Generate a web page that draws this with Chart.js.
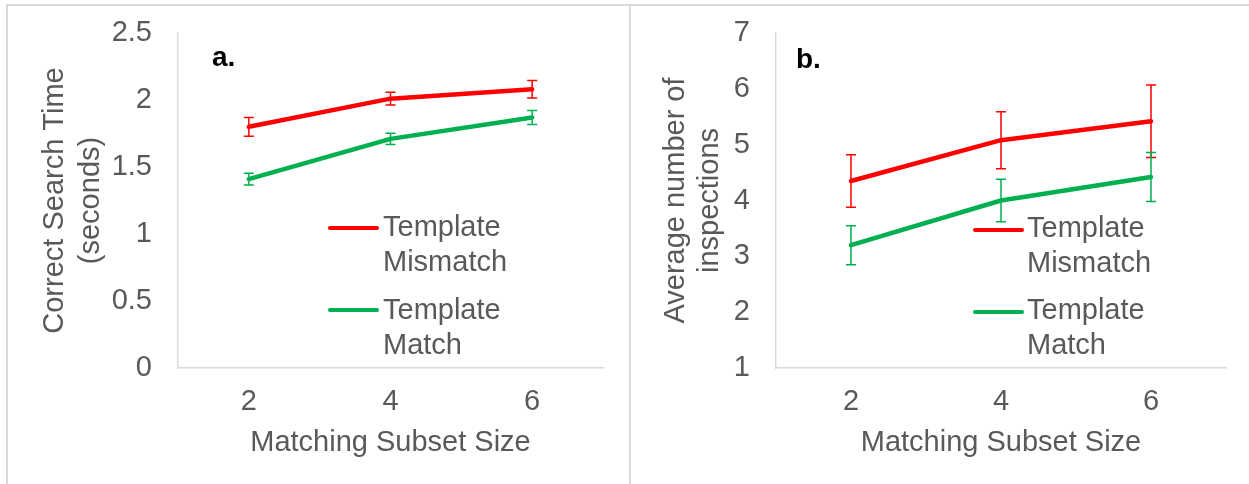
<!DOCTYPE html>
<html>
<head>
<meta charset="utf-8">
<script src="https://cdn.jsdelivr.net/npm/chart.js@4.4.1/dist/chart.umd.min.js"></script>
<style>
  html, body { margin:0; padding:0; background:#ffffff; }
  #wrap { position:relative; width:1249px; height:484px; overflow:hidden; font-family:"Liberation Sans", Arial, sans-serif; }
  canvas { position:absolute; display:block; }
  .rule { position:absolute; background:#d9d9d9; z-index:5; }
  .lbl { position:absolute; font-weight:bold; font-size:28px; line-height:35px; color:#000; white-space:nowrap; }
  .legtxt { position:absolute; font-size:29px; line-height:35px; color:#595959; white-space:nowrap; }
  .legline { position:absolute; height:4px; border-radius:2px; }
</style>
</head>
<body>
<div id="wrap">
  <canvas id="chartA" width="629" height="484" style="left:0px;top:0px;"></canvas>
  <canvas id="chartB" width="620" height="484" style="left:629px;top:0px;"></canvas>

  <div class="rule" style="left:6px;top:4px;width:1243px;height:2px;"></div>
  <div class="rule" style="left:6px;top:4px;width:2px;height:480px;"></div>
  <div class="rule" style="left:629px;top:4px;width:2px;height:480px;"></div>

  <div class="lbl" style="left:212px;top:39px;">a.</div>
  <div class="lbl" style="left:796px;top:41px;">b.</div>

  <div class="legline" style="left:328px;top:226px;width:51px;background:#ff0000;"></div>
  <div class="legtxt" style="left:383px;top:209px;">Template<br>Mismatch</div>
  <div class="legline" style="left:328px;top:308px;width:51px;background:#00b050;"></div>
  <div class="legtxt" style="left:383px;top:292px;">Template<br>Match</div>

  <div class="legline" style="left:973px;top:228px;width:51px;background:#ff0000;"></div>
  <div class="legtxt" style="left:1027px;top:210px;">Template<br>Mismatch</div>
  <div class="legline" style="left:973px;top:310px;width:51px;background:#00b050;"></div>
  <div class="legtxt" style="left:1027px;top:292px;">Template<br>Match</div>
</div>
<script>
// ---- data ----
const categories = ['2', '4', '6'];

const aMismatch    = [1.80, 2.01, 2.08];
const aMismatchErr = [0.07, 0.047, 0.065];
const aMatch       = [1.41, 1.71, 1.87];
const aMatchErr    = [0.044, 0.042, 0.052];

const bMismatch    = [4.35, 5.08, 5.42];
const bMismatchErr = [0.47, 0.51, 0.65];
const bMatch       = [3.20, 4.00, 4.42];
const bMatchErr    = [0.35, 0.38, 0.44];

const seriesNames = ['Template Mismatch', 'Template Match'];
const xTitle = 'Matching Subset Size';
const aYTitle = ['Correct Search Time', '(seconds)'];
const bYTitle = ['Average number of', 'inspections'];
// -------------

const RED = '#ff0000', GREEN = '#00b050', TXT = '#595959', AXIS = '#d9d9d9';
const FONT = '"Liberation Sans", Arial, sans-serif';
const FS = 29;

const errorBarPlugin = {
  id: 'errorBars',
  afterDatasetsDraw(chart) {
    const ctx = chart.ctx;
    const x = chart.scales.x, y = chart.scales.y;
    chart.data.datasets.forEach((ds) => {
      const errs = ds.errors || [];
      ctx.save();
      ctx.strokeStyle = ds.borderColor;
      ctx.lineWidth = 1.5;
      ds.data.forEach((v, i) => {
        const e = errs[i];
        if (e == null) return;
        const px = x.getPixelForValue(i);
        const top = y.getPixelForValue(v + e);
        const bot = y.getPixelForValue(v - e);
        ctx.beginPath();
        ctx.moveTo(px, top); ctx.lineTo(px, bot);
        ctx.moveTo(px - 5, top); ctx.lineTo(px + 5, top);
        ctx.moveTo(px - 5, bot); ctx.lineTo(px + 5, bot);
        ctx.stroke();
      });
      ctx.restore();
    });
  }
};

function makeChart(id, mism, mismErr, match, matchErr, yMin, yMax, yStep, yTitle, yWidth, padRight, yTitlePad, yTitleLH) {
  return new Chart(document.getElementById(id), {
    type: 'line',
    data: {
      labels: categories,
      datasets: [
        { label: seriesNames[0], data: mism, errors: mismErr, borderColor: RED, backgroundColor: RED,
          borderWidth: 4.5, pointRadius: 0, borderCapStyle: 'round', borderJoinStyle: 'round', tension: 0 },
        { label: seriesNames[1], data: match, errors: matchErr, borderColor: GREEN, backgroundColor: GREEN,
          borderWidth: 4.5, pointRadius: 0, borderCapStyle: 'round', borderJoinStyle: 'round', tension: 0 }
      ]
    },
    options: {
      responsive: false,
      animation: false,
      events: [],
      layout: { padding: { top: 33, right: padRight, left: 0, bottom: 0 } },
      plugins: { legend: { display: false }, tooltip: { enabled: false } },
      scales: {
        x: {
          type: 'category',
          offset: true,
          grid: { display: false, drawTicks: false },
          border: { display: true, color: AXIS, width: 1.5 },
          ticks: { color: TXT, font: { family: FONT, size: FS }, padding: 17 },
          title: { display: true, text: xTitle, color: TXT, font: { family: FONT, size: FS, lineHeight: '36px' },
                   padding: { top: 0, bottom: 23 } },
          afterFit(s) { s.height = 116; s.paddingLeft = 0; s.paddingRight = 0; }
        },
        y: {
          min: yMin, max: yMax,
          grid: { display: false, drawTicks: false },
          border: { display: true, color: AXIS, width: 1.5 },
          ticks: { stepSize: yStep, color: TXT, font: { family: FONT, size: FS }, padding: 26,
                   callback: (v) => String(Math.round(v * 10) / 10) },
          title: { display: true, text: yTitle, color: TXT, font: { family: FONT, size: FS, lineHeight: yTitleLH },
                   padding: { top: yTitlePad, bottom: 0 } },
          afterFit(s) { s.width = yWidth; s.paddingTop = 0; s.paddingBottom = 0; }
        }
      }
    },
    plugins: [errorBarPlugin]
  });
}

makeChart('chartA', aMismatch, aMismatchErr, aMatch, aMatchErr, 0, 2.5, 0.5, aYTitle, 178, 26, 37, '36px');
makeChart('chartB', bMismatch, bMismatchErr, bMatch, bMatchErr, 1, 7, 1, bYTitle, 147, 23, 30, '34px');
</script>
</body>
</html>
